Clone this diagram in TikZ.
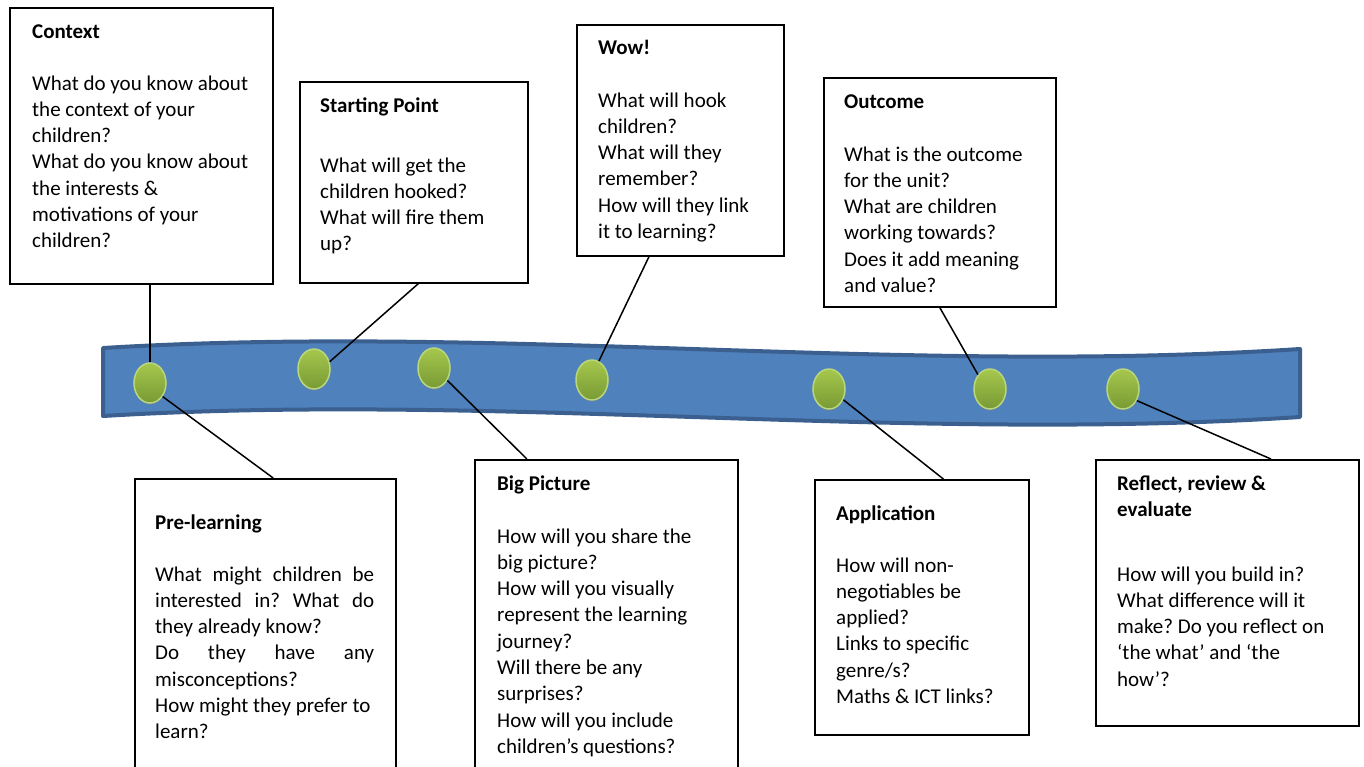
\documentclass[tikz,border=0pt]{standalone}
\usepackage{fontspec}
\setmainfont{Carlito}
\frenchspacing
\usetikzlibrary{shapes.geometric,calc,shadows}
\definecolor{ribbonfill}{HTML}{4F81BD}
\definecolor{ribbonedge}{HTML}{3B6090}
\definecolor{gtop}{HTML}{A6C74D}
\definecolor{gbot}{HTML}{789A34}
\definecolor{gedge}{HTML}{BAD67C}
\begin{document}
\begin{tikzpicture}[x=1pt,y=-1pt,
  font=\fontsize{21}{26.3}\selectfont,
  box/.style={draw=black, line width=1.6pt, fill=white, inner sep=0pt, anchor=north west},
  heading/.style={anchor=base west, inner sep=0pt, font=\fontsize{21}{26.3}\selectfont\bfseries},
  body/.style={anchor=base west, inner sep=0pt},
  dot/.style={ellipse, minimum width=32pt, minimum height=40pt, inner sep=0pt,
    top color=gtop, bottom color=gbot, draw=gedge, line width=1.5pt,
    drop shadow={shadow xshift=0pt, shadow yshift=-2pt, opacity=0.25}},
  link/.style={draw=black, line width=1.5pt}]
\useasboundingbox (0,0) rectangle (1364,766);
\fill[white] (0,0) rectangle (1364,766);

% ribbon
\path[draw=ribbonedge, line width=4pt, fill=ribbonfill, line join=round]
  (103,348) .. controls (500,324) and (900,375) .. (1300,349)
  -- (1300,417) .. controls (900,443) and (500,392) .. (103,416) -- cycle;

% boxes
\node[box, minimum width=263pt, minimum height=276pt] (ctx) at (9,7) {};
\node[box, minimum width=228pt, minimum height=201pt] (sp) at (299,81) {};
\node[box, minimum width=207pt, minimum height=231pt] (wow) at (576,24) {};
\node[box, minimum width=232pt, minimum height=229pt] (oc) at (823,77) {};
\node[box, minimum width=261pt, minimum height=300pt] (pre) at (134,478) {};
\node[box, minimum width=263pt, minimum height=320pt] (big) at (474,459) {};
\node[box, minimum width=214pt, minimum height=255pt] (app) at (814,479) {};
\node[box, minimum width=263pt, minimum height=266pt] (ref) at (1095,459) {};

% texts
\node[heading] (ctxH) at (32,38) {Context};
\node[body] (ctxB) at (32,90) {\begin{minipage}[t]{235pt}\raggedright
What do you know about\\the context of your\\children?\\What do you know about\\the interests \&\\motivations of your\\children?\end{minipage}};

\node[heading] (spH) at (320,112) {Starting Point};
\node[body] (spB) at (320,172) {\begin{minipage}[t]{200pt}\raggedright
What will get the\\children hooked?\\What will fire them\\up?\end{minipage}};

\node[heading] (wowH) at (598,54) {Wow!};
\node[body] (wowB) at (598,107) {\begin{minipage}[t]{180pt}\raggedright
What will hook\\children?\\What will they\\remember?\\How will they link\\it to learning?\end{minipage}};

\node[heading] (ocH) at (844,108) {Outcome};
\node[body] (ocB) at (844,161) {\begin{minipage}[t]{205pt}\raggedright
What is the outcome\\for the unit?\\What are children\\working towards?\\Does it add meaning\\and value?\end{minipage}};

\node[heading] (preH) at (155,529) {Pre-learning};
\node[body] (preB) at (155,581) {\begin{minipage}[t]{225pt}\raggedright
\makebox[219pt][s]{What might children be}\\\makebox[219pt][s]{interested in? What do}\\they already know?\\\makebox[219pt][s]{Do they have any}\\misconceptions?\\How might they prefer to\\learn?\end{minipage}};

\node[heading] (bigH) at (497,490) {Big Picture};
\node[body] (bigB) at (497,543) {\begin{minipage}[t]{235pt}\raggedright
How will you share the\\big picture?\\How will you visually\\represent the learning\\journey?\\Will there be any\\surprises?\\How will you include\\children’s questions?\end{minipage}};

\node[heading] (appH) at (836,520) {Application};
\node[body] (appB) at (836,572) {\begin{minipage}[t]{190pt}\raggedright
How will non-\\negotiables be\\applied?\\Links to specific\\genre/s?\\Maths \& ICT links?\end{minipage}};

\node[body] (refH) at (1117,490) {\begin{minipage}[t]{235pt}\raggedright\bfseries
Reflect, review \&\\evaluate\end{minipage}};
\node[body] (refB) at (1117,581) {\begin{minipage}[t]{235pt}\raggedright
How will you build in?\\What difference will it\\make? Do you reflect on\\‘the what’ and ‘the\\how’?\end{minipage}};

% dots
\node[dot] (e1) at (150,383) {};
\node[dot] (e2) at (314,369) {};
\node[dot] (e3) at (434,368) {};
\node[dot] (e4) at (592,380) {};
\node[dot] (e5) at (829,389) {};
\node[dot] (e6) at (990,389) {};
\node[dot] (e7) at (1123,389) {};

% connectors
\draw[link] (e1.north) -- (e1.north |- ctx.south);
\draw[link] (e2.25) -- ($(sp.south west)!0.52!(sp.south east)$);
\draw[link] (e4.70) -- ($(wow.south west)!0.35!(wow.south east)$);
\draw[link] (e6.130) -- (oc.south);
\draw[link] (e1.-47) -- ($(pre.north west)!0.53!(pre.north east)$);
\draw[link] (e3.-43) -- ($(big.north west)!0.2!(big.north east)$);
\draw[link] (e5.-37) -- ($(app.north west)!0.6!(app.north east)$);
\draw[link] (e7.-40) -- ($(ref.north west)!0.665!(ref.north east)$);
\end{tikzpicture}
\end{document}
